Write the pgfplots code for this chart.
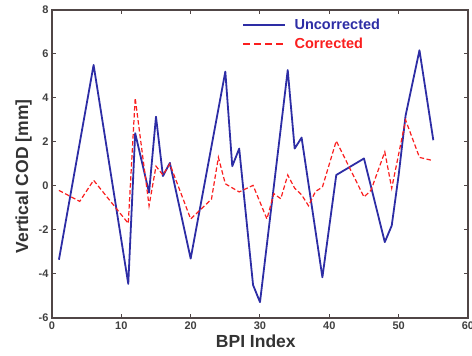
\documentclass[border=0pt]{standalone}
\usepackage{pgfplots}
\pgfplotsset{compat=1.18}
\usepackage{fontspec}
\setmainfont{Liberation Sans}
\definecolor{ublue}{RGB}{45,45,165}
\definecolor{cred}{RGB}{250,30,30}
\definecolor{frame}{RGB}{80,70,70}
\begin{document}
\begin{tikzpicture}
\path[use as bounding box] (-52pt,-38pt) rectangle (420pt,318pt);
\begin{axis}[
  at={(0pt,0pt)}, anchor=south west,
  scale only axis, width=416pt, height=308pt,
  xmin=0, xmax=60, ymin=-6, ymax=8,
  xtick={0,10,...,60}, ytick={-6,-4,...,8},
  tick align=inside, major tick length=4pt,
  axis line style={frame, line width=1.3pt},
  every tick/.style={frame, line width=1pt},
  /pgf/number format/assume math mode=true,
  tick label style={font=\bfseries\fontsize{11}{11}\selectfont, text=black!75},
  xlabel={BPI Index}, ylabel={Vertical COD [mm]},
  xlabel style={font=\bfseries\fontsize{17.5}{17.5}\selectfont, text=black!80,
    at={(ticklabel cs:0.49)}, yshift=1pt},
  ylabel style={font=\bfseries\fontsize{17.5}{17.5}\selectfont, text=black!80,
    at={(ticklabel cs:0.46)}, yshift=0pt},
  legend style={at={(0.45,0.985)}, anchor=north west, draw=none, fill=none,
    font=\bfseries\fontsize{14.5}{14.5}\selectfont, row sep=3pt},
  legend cell align=left,
  legend image code/.code={\draw[#1] (0pt,0pt) -- (42pt,0pt);},
]
\addlegendimage{ublue, line width=2.2pt}
\addlegendentry{\hspace{6pt}\textcolor{ublue}{Uncorrected}}
\addlegendimage{cred, line width=2.2pt, dash pattern=on 7pt off 4pt}
\addlegendentry{\hspace{6pt}\textcolor{cred}{Corrected}}
\addplot[ublue, line width=1.8pt, line join=round, forget plot] coordinates {
(1,-3.35) (6,5.5) (11,-4.45) (12,2.4) (14,-0.3) (15,3.15) (16,0.45) (17,1.05)
(20,-3.3) (25,5.2) (26,0.9) (27,1.7) (29,-4.5) (30,-5.28) (34,5.27) (35,1.7)
(36,2.2) (39,-4.15) (41,0.5) (45,1.25) (48,-2.55) (49,-1.8) (50,0.5) (51,3.2)
(53,6.17) (55,2.08)
};
\addplot[cred, line width=1.2pt, dash pattern=on 4.5pt off 2.5pt, forget plot] coordinates {
(1,-0.2) (4,-0.7) (6,0.26) (11,-1.7) (12,4.0) (14,-0.9) (15,0.9) (16,0.5)
(17,1.0) (20,-1.5) (23,-0.6) (24,1.3) (25,0.1) (27,-0.27) (29,0.03) (31,-1.5)
(32,-0.35) (33,-0.58) (34,0.5) (35,-0.1) (36,-0.4) (37,-0.9) (38,-0.25)
(39,-0.05) (41,2.05) (45,-0.5) (46,-0.2) (48,1.55) (49,-0.1) (51,3.0)
(53,1.3) (55,1.15)
};
\end{axis}
\end{tikzpicture}
\end{document}
